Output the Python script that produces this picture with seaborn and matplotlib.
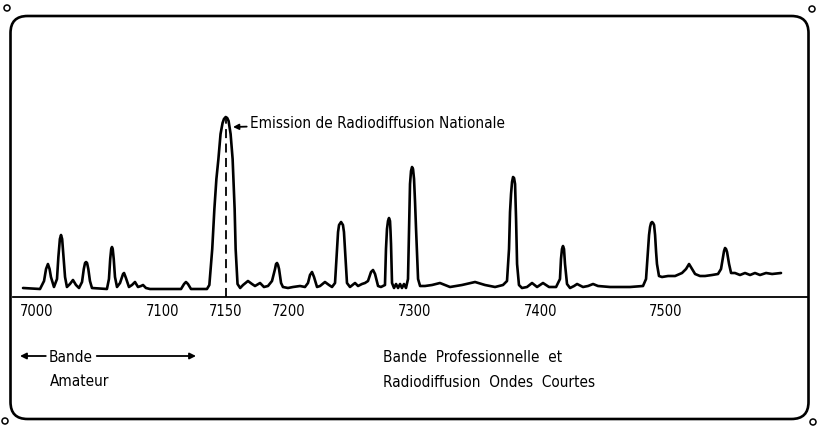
import matplotlib
matplotlib.use("Agg")
import matplotlib.pyplot as plt
import seaborn as sns
import pandas as pd
from matplotlib.patches import FancyBboxPatch, Circle

# Receiver output trace across the 41 m band (kHz vs relative level)
freq_khz = [
    6988.9, 7002.4, 7005.6, 7007.2, 7008.7, 7010.0, 7011.1, 7013.5, 7015.9, 7017.0,
    7018.2, 7019.1, 7020.0, 7021.0, 7022.3, 7023.8, 7026.2, 7028.6, 7031.0, 7033.4,
    7035.8, 7037.2, 7038.2, 7039.0, 7039.8, 7040.8, 7042.1, 7043.7,
    7055.6, 7057.2, 7058.2, 7059.0, 7059.6, 7060.2, 7061.0, 7062.0, 7063.6,
    7066.0, 7068.4, 7069.2, 7070.7, 7073.1, 7075.5, 7077.9, 7080.3, 7082.7, 7084.3,
    7086.6, 7089.8, 7114.5, 7116.9, 7118.4, 7120.0, 7122.4,
    7135.1, 7137.0, 7139.3, 7141.0, 7142.6, 7144.2, 7145.9, 7147.5, 7148.6, 7150.0,
    7151.2, 7152.3, 7153.9, 7155.5, 7156.3, 7157.1, 7157.9, 7159.4, 7161.5,
    7163.8, 7167.7, 7170.9, 7173.3, 7177.3, 7180.4, 7183.6, 7186.8, 7189.2, 7190.0,
    7190.8, 7191.6, 7192.4, 7194.0, 7195.5, 7199.5, 7203.5, 7209.1, 7213.0,
    7215.4, 7217.0, 7218.6, 7220.2, 7222.6, 7225.0, 7228.9, 7232.1, 7234.5, 7236.9,
    7238.5, 7239.3, 7240.1, 7241.7, 7243.2, 7244.0, 7244.8, 7246.4, 7248.8,
    7252.8, 7255.2, 7258.3, 7260.7, 7263.1, 7265.5, 7267.1, 7268.7, 7271.1, 7273.4,
    7276.6, 7277.4, 7278.2, 7279.0, 7279.8, 7280.6, 7281.0, 7281.4, 7282.2, 7283.8,
    7285.4, 7287.0, 7288.6, 7290.1, 7291.7, 7293.3, 7294.9, 7295.7, 7296.5, 7297.3,
    7298.1, 7298.9, 7299.7, 7300.5, 7301.3, 7302.9, 7304.5,
    7308.4, 7314.0, 7320.3, 7328.3, 7337.8, 7348.2, 7356.1, 7364.1, 7370.4, 7373.6,
    7375.2, 7376.0, 7376.8, 7377.6, 7378.4, 7379.2, 7380.0, 7380.8, 7381.6, 7383.1,
    7385.5, 7389.5, 7393.5, 7397.5, 7402.2, 7407.0, 7412.6, 7415.7, 7416.5, 7417.3,
    7418.1, 7418.9, 7419.7, 7421.3, 7423.7,
    7426.9, 7429.3, 7434.0, 7438.0, 7442.0, 7445.9, 7455.5, 7471.4, 7481.7, 7484.1,
    7485.7, 7486.5, 7487.3, 7488.1, 7488.9, 7489.7, 7490.5, 7491.3, 7492.1, 7492.8,
    7494.4, 7496.8,
    7501.6, 7507.2, 7512.7, 7515.9, 7518.3, 7520.7, 7523.1, 7527.0, 7531.0, 7536.6,
    7541.3, 7543.7, 7545.3, 7546.1, 7546.9, 7547.7, 7548.5, 7550.1, 7551.7,
    7554.8, 7558.8, 7562.8, 7566.8, 7570.7, 7574.7, 7579.5, 7584.3, 7591.4,
]
level = [
    9, 8, 16, 28, 33, 28, 20, 10, 18, 40,
    58, 62, 58, 42, 20, 10, 13, 17, 12, 9,
    15, 28, 34, 35, 34, 28, 16, 9,
    8, 18, 38, 48, 50, 48, 38, 20, 10,
    14, 23, 24, 19, 10, 12, 15, 10, 11, 12,
    9, 8, 8, 13, 15, 13, 8,
    8, 12, 48, 88, 118, 138, 163, 174, 178, 180,
    179, 176, 163, 138, 113, 88, 48, 13, 9,
    12, 16, 13, 11, 14, 10, 11, 16, 28, 33,
    34, 32, 28, 14, 10, 9, 10, 11, 10,
    14, 22, 25, 20, 10, 11, 15, 12, 10, 14,
    48, 65, 72, 75, 72, 65, 48, 14, 10,
    14, 11, 13, 14, 16, 25, 27, 23, 11, 10,
    12, 48, 68, 76, 79, 76, 66, 53, 14, 9,
    13, 9, 13, 9, 13, 9, 18, 68, 113, 126,
    130, 128, 118, 95, 68, 18, 11,
    11, 12, 14, 10, 12, 15, 12, 10, 12, 16,
    48, 85, 103, 115, 120, 119, 113, 78, 33, 12,
    9, 10, 14, 10, 14, 10, 10, 18, 38, 48,
    51, 48, 33, 13, 9,
    11, 13, 10, 11, 13, 11, 10, 10, 11, 18,
    48, 62, 70, 74, 75, 74, 72, 62, 45, 33,
    21, 20,
    21, 21, 24, 28, 33, 28, 23, 21, 21, 22,
    23, 28, 40, 46, 49, 48, 45, 33, 24,
    24, 22, 24, 22, 24, 22, 24, 23, 24,
]

tick_khz = [7000, 7100, 7150, 7200, 7300, 7400, 7500]
tick_labels = ["7000", "7100", "7150", "7200", "7300", "7400", "7500"]
station_khz = 7150
station_label = "Emission de Radiodiffusion Nationale"
amateur_label = ["Bande", "Amateur"]
broadcast_label = ["Bande  Professionnelle  et", "Radiodiffusion  Ondes  Courtes"]

sns.set_theme(style="white")
plt.rcParams["font.family"] = ["DejaVu Sans", "Liberation Sans"]
plt.rcParams["font.stretch"] = "condensed"
plt.rcParams["text.color"] = "black"
plt.rcParams["xtick.color"] = "black"

INK = "black"
FS = 11

fig = plt.figure(figsize=(8.17, 4.27), dpi=100)
fig.patch.set_facecolor("white")
ax = fig.add_axes([0, 0, 1, 1])
ax.set_facecolor("none")

df = pd.DataFrame({"kHz": freq_khz, "niveau": level})
sns.lineplot(data=df, x="kHz", y="niveau", estimator=None, sort=False,
             color=INK, lw=1.9, ax=ax)

ax.set_xlim(6970.6, 7620.0)
ax.set_ylim(-129, 298)
ax.set_xlabel("")
ax.set_ylabel("")
ax.set_yticks([])

# frequency axis drawn through level 0
for side in ("top", "left", "right"):
    ax.spines[side].set_visible(False)
ax.spines["bottom"].set_position(("data", 0))
ax.spines["bottom"].set_bounds(6981, 7613)
ax.spines["bottom"].set_linewidth(1.3)
ax.spines["bottom"].set_color(INK)
ax.set_xticks(tick_khz, tick_labels)
ax.tick_params(axis="x", direction="inout", length=7, width=1.3, pad=1,
               labelsize=10.5, colors=INK)

# national broadcast station marker
peak = level[freq_khz.index(station_khz)]
ax.vlines(station_khz, 0, peak, colors=INK, lw=1.3, linestyles=(0, (5, 3)))
ax.annotate(station_label, xy=(7155.8, 170), xytext=(7169.3, 174),
            ha="left", va="center", fontsize=FS, color=INK,
            arrowprops=dict(arrowstyle="-|>", color=INK, lw=1.3,
                            shrinkA=0, shrinkB=0, mutation_scale=8))

# amateur band caption with arrows
ax.annotate("", xy=(6986.5, -59), xytext=(7007.0, -59),
            arrowprops=dict(arrowstyle="-|>", color=INK, lw=1.3,
                            shrinkA=0, shrinkB=0, mutation_scale=9))
ax.annotate("", xy=(7126.4, -59), xytext=(7047.5, -59),
            arrowprops=dict(arrowstyle="-|>", color=INK, lw=1.3,
                            shrinkA=0, shrinkB=0, mutation_scale=9))
ax.text(7027.0, -59, amateur_label[0], ha="center", va="center", fontsize=FS, color=INK)
ax.text(7010.3, -84, amateur_label[1], ha="left", va="center", fontsize=FS, color=INK)

ax.text(7275.1, -59, broadcast_label[0], ha="left", va="center", fontsize=FS, color=INK)
ax.text(7275.1, -85, broadcast_label[1], ha="left", va="center", fontsize=FS, color=INK)

# rounded frame and corner holes
frame = FancyBboxPatch((0.105, 0.07), 7.98, 4.03,
                       boxstyle="round,pad=0,rounding_size=0.17",
                       transform=fig.dpi_scale_trans, fill=False,
                       edgecolor=INK, lw=1.9)
fig.patches.append(frame)
for cx, cy in [(0.07, 4.18), (8.12, 4.17), (0.05, 0.05), (8.13, 0.04)]:
    fig.patches.append(Circle((cx, cy), 0.03, transform=fig.dpi_scale_trans,
                              fill=False, edgecolor=INK, lw=1.1))

fig.savefig("out.png", dpi=100, facecolor="white")
